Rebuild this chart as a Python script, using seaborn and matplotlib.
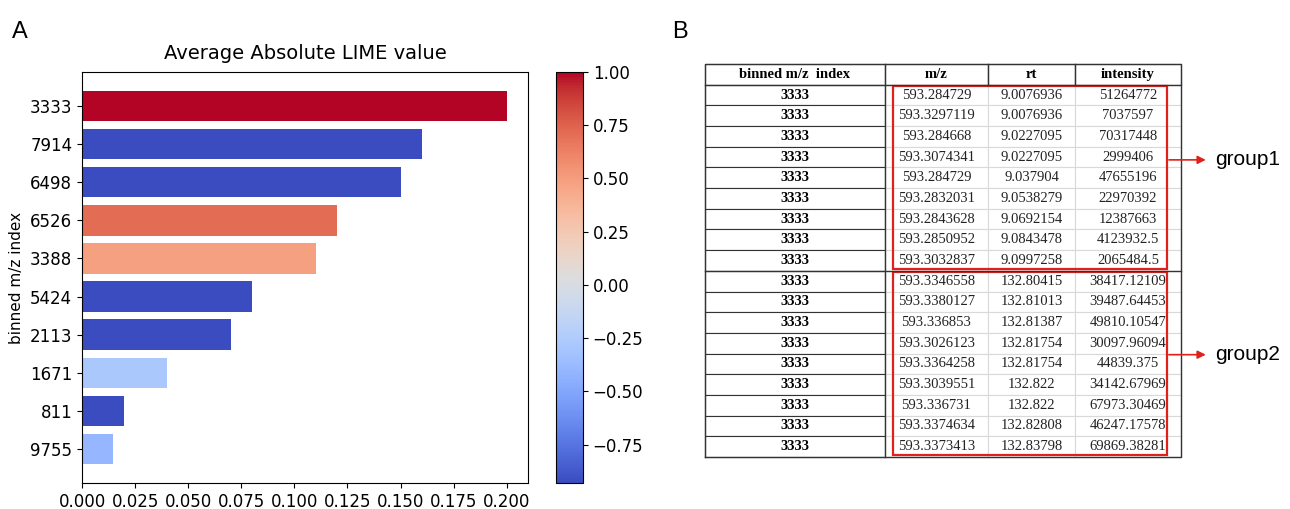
import numpy as np
import pandas as pd
import matplotlib
matplotlib.use('Agg')
import matplotlib.pyplot as plt
import matplotlib.patches as mpatches
import seaborn as sns

# panel A data
mz_index = ['3333', '7914', '6498', '6526', '3388', '5424', '2113', '1671', '811', '9755']
abs_lime = [0.200, 0.160, 0.150, 0.120, 0.110, 0.080, 0.070, 0.040, 0.020, 0.0145]
mean_lime = [1.00, -0.93, -0.93, 0.71, 0.48, -0.93, -0.93, -0.28, -0.93, -0.40]

# panel B data
tbl_header = ['binned m/z  index', 'm/z', 'rt', 'intensity']
tbl_index = ['3333'] * 18
tbl_mz = ['593.284729', '593.3297119', '593.284668', '593.3074341', '593.284729',
          '593.2832031', '593.2843628', '593.2850952', '593.3032837',
          '593.3346558', '593.3380127', '593.336853', '593.3026123', '593.3364258',
          '593.3039551', '593.336731', '593.3374634', '593.3373413']
tbl_rt = ['9.0076936', '9.0076936', '9.0227095', '9.0227095', '9.037904',
          '9.0538279', '9.0692154', '9.0843478', '9.0997258',
          '132.80415', '132.81013', '132.81387', '132.81754', '132.81754',
          '132.822', '132.822', '132.82808', '132.83798']
tbl_intensity = ['51264772', '7037597', '70317448', '2999406', '47655196',
                 '22970392', '12387663', '4123932.5', '2065484.5',
                 '38417.12109', '39487.64453', '49810.10547', '30097.96094', '44839.375',
                 '34142.67969', '67973.30469', '46247.17578', '69869.38281']
group_names = ['group1', 'group2']
group_size = 9
arrow_shift = [0.045, 0.023]  # arrows sit a bit above the box centre

W, H = 1290, 509
fig = plt.figure(figsize=(W / 100, H / 100), dpi=100)

# ---- panel A ----
ax = fig.add_axes([82 / W, 1 - 483 / H, (528 - 82) / W, (483 - 72) / H])
cmap = plt.get_cmap('coolwarm')
norm = matplotlib.colors.Normalize(vmin=min(mean_lime), vmax=max(mean_lime))
colors = [cmap(norm(v)) for v in mean_lime]

df = pd.DataFrame({'idx': mz_index, 'val': abs_lime})
sns.barplot(data=df, x='val', y='idx', hue='idx', palette=colors, legend=False,
            orient='h', width=0.8, saturation=1, ax=ax)
n = len(mz_index)
ax.set_ylim(n - 0.6 + 0.49, -0.4 - 0.49)
ax.set_xlim(0, max(abs_lime) * 1.05)
ax.set_xticks(np.arange(0, 0.2001, 0.025))
ax.set_xlabel('')
ax.set_ylabel('binned m/z index', fontsize=11)
ax.set_title('Average Absolute LIME value', fontsize=14, pad=9)
ax.tick_params(labelsize=12)

cax = fig.add_axes([556 / W, 1 - 483 / H, 27 / W, (483 - 72) / H])
sm = matplotlib.cm.ScalarMappable(norm=norm, cmap=cmap)
cb = fig.colorbar(sm, cax=cax, ticks=[-0.75, -0.5, -0.25, 0, 0.25, 0.5, 0.75, 1.0])
cb.ax.set_yticklabels(['\u22120.75', '\u22120.50', '\u22120.25', '0.00', '0.25', '0.50', '0.75', '1.00'])
cb.ax.tick_params(labelsize=12)

fig.text(12 / W, 1 - 38 / H, 'A', fontsize=17, family='Liberation Sans')
fig.text(672 / W, 1 - 38 / H, 'B', fontsize=17, family='Liberation Sans')

# ---- panel B ----
tx = fig.add_axes([705 / W, 1 - 457 / H, 476 / W, (457 - 64) / H])
tx.axis('off')
rows = [[a, b, c, d] for a, b, c, d in zip(tbl_index, tbl_mz, tbl_rt, tbl_intensity)]
col_w = np.array([180, 103, 87, 106]) / 476
table = tx.table(cellText=rows, colLabels=tbl_header, colWidths=list(col_w),
                 cellLoc='center', bbox=[0, 0, 1, 1])
table.auto_set_font_size(False)
dark = '#333333'
light = '#d9d9d9'
for (r, c), cell in table.get_celld().items():
    cell.get_text().set_fontfamily('Liberation Serif')
    cell.get_text().set_fontsize(10.5)
    cell.set_linewidth(0.8)
    if r == 0:
        cell.get_text().set_fontweight('bold')
        cell.set_edgecolor(dark)
    elif c == 0:
        cell.get_text().set_fontweight('bold')
        cell.set_edgecolor(dark)
    else:
        cell.set_edgecolor(light)
        cell.get_text().set_color('#222222')

nrows = len(rows) + 1
rh = 1 / nrows
xs = np.concatenate([[0], np.cumsum(col_w)])
kw = dict(color=dark, lw=1.0, transform=tx.transAxes, clip_on=False)
tx.plot([0, 1, 1, 0, 0], [0, 0, 1, 1, 0], **kw)
tx.plot([xs[1], xs[1]], [0, 1], **kw)
tx.plot([0, 1], [1 - rh, 1 - rh], **kw)
for x in xs[2:4]:
    tx.plot([x, x], [1 - rh, 1], **kw)
ysep = 1 - rh * (1 + group_size)
tx.plot([0, 1], [ysep, ysep], **kw)

x0 = (893 - 705) / 476
x1 = (1167 - 705) / 476
for g, name in enumerate(group_names):
    top = 1 - rh * (1 + g * group_size) - 0.003
    bot = 1 - rh * (1 + (g + 1) * group_size) + 0.004
    tx.add_patch(mpatches.Rectangle((x0, bot), x1 - x0, top - bot, fill=False,
                                    edgecolor='#e0201b', lw=1.6,
                                    transform=tx.transAxes, clip_on=False))
    ym = (top + bot) / 2 + arrow_shift[g]
    tx.annotate('', xy=(1.052, ym), xytext=(x1 + 0.004, ym), xycoords='axes fraction',
                arrowprops=dict(arrowstyle='-|>', color='#e0201b', lw=1.2,
                                mutation_scale=12, shrinkA=0, shrinkB=0))
    tx.text(1.071, ym, name, transform=tx.transAxes, fontsize=15,
            family='Liberation Sans', va='center', ha='left')

fig.savefig('out.png', dpi=100)
